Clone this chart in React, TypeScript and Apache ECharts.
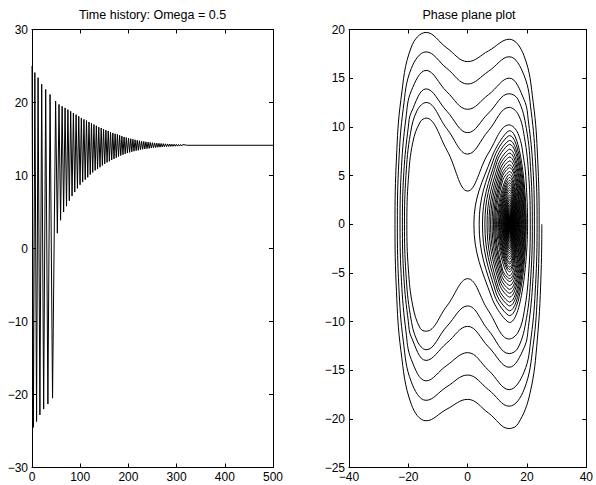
import React, { useEffect, useRef } from "react";
import * as echarts from "echarts";

// ---------- data ----------
// Time history: turning points of the large (two-well) oscillations
const outerTimes = [0, 2.9, 5.9, 9.5, 12.6, 16.4, 20.1, 24.2, 28.4, 33.0, 37.5, 42.6];
const outerX = [25, -24.5, 24.1, -23.7, 23.4, -22.8, 22.5, -22, 21.8, -21.3, 21.1, -20.5];

// Trapped oscillation around the right well: turning-point times and positions
const trapTimes = [
  49.0, 52.6, 56.0, 59.3, 62.5, 65.6, 68.6, 71.6, 74.5, 77.4,
  80.25, 83.1, 85.9, 88.7, 91.5, 94.25, 97.0, 99.7, 102.4, 105.1,
  107.75, 110.4, 113.05, 115.65, 118.25, 120.85, 123.4, 125.95, 128.5, 131.05,
  133.55, 136.05, 138.55, 141.05, 143.55, 146.0, 148.45, 150.9, 153.35, 155.75,
  158.15, 160.55, 162.95, 165.35, 167.75, 170.1, 172.45, 174.8, 177.15, 179.5,
  181.85, 184.15, 186.45, 188.75, 191.05, 193.35, 195.65, 197.95, 200.25, 202.55,
  204.85, 207.1, 209.35, 211.6, 213.85, 216.1, 218.35, 220.6, 222.85, 225.1,
  227.35, 229.6, 231.85, 234.1, 236.35, 238.6, 240.85, 243.1, 245.35, 247.6,
  249.85, 252.1, 254.35, 256.6, 258.85, 261.1, 263.35, 265.6, 267.85, 270.1,
  272.35, 274.6, 276.85, 279.1, 281.35, 283.6, 285.85, 288.1, 290.35, 292.6,
  294.85, 297.1, 299.35, 301.6, 303.85, 306.1, 308.35, 310.6, 312.85,
];
const trapX = [
  20.2, 2.1, 19.74, 3.87, 19.48, 5.0, 19.26, 5.8, 19.02, 6.54,
  18.79, 7.19, 18.56, 7.73, 18.34, 8.24, 18.12, 8.72, 17.88, 9.1,
  17.69, 9.44, 17.52, 9.75, 17.33, 10.13, 17.15, 10.42, 16.99, 10.7,
  16.81, 10.91, 16.63, 11.13, 16.51, 11.38, 16.36, 11.6, 16.21, 11.79,
  16.1, 11.95, 15.96, 12.12, 15.83, 12.28, 15.71, 12.44, 15.63, 12.6,
  15.51, 12.73, 15.39, 12.85, 15.28, 12.97, 15.2, 13.07, 15.12, 13.16,
  15.04, 13.25, 14.97, 13.33, 14.89, 13.4, 14.82, 13.45, 14.76, 13.53,
  14.71, 13.59, 14.66, 13.64, 14.61, 13.68, 14.57, 13.72, 14.53, 13.76,
  14.5, 13.8, 14.46, 13.83, 14.43, 13.86, 14.41, 13.88, 14.38, 13.91,
  14.36, 13.93, 14.34, 13.95, 14.32, 13.97, 14.31, 13.98, 14.29, 14.0,
  14.28, 14.01, 14.27, 14.02, 14.26, 14.03, 14.25, 14.04, 14.24,
];
// Extreme velocity between consecutive turning points (reached at the well centre)
const trapV = [
  -10.1, 9.6, -9.4, 9.1, -8.9, 8.6, -8.4, 8.2, -8.0, 7.7,
  -7.5, 7.3, -7.1, 6.9, -6.7, 6.5, -6.3, 6.1, -5.9, 5.8,
  -5.6, 5.4, -5.3, 5.1, -4.9, 4.8, -4.65, 4.5, -4.4, 4.25,
  -4.1, 4.0, -3.9, 3.75, -3.6, 3.5, -3.35, 3.25, -3.1, 3.0,
  -2.9, 2.8, -2.7, 2.6, -2.5, 2.45, -2.35, 2.25, -2.15, 2.05,
  -1.95, 1.9, -1.8, 1.75, -1.65, 1.6, -1.5, 1.45, -1.4, 1.35,
  -1.3, 1.2, -1.15, 1.1, -1.05, 1.0, -0.95, 0.9, -0.88, 0.84,
  -0.8, 0.76, -0.73, 0.69, -0.66, 0.63, -0.6, 0.57, -0.55, 0.52,
  -0.5, 0.47, -0.45, 0.43, -0.41, 0.39, -0.37, 0.355, -0.34, 0.32,
  -0.305, 0.29, -0.28, 0.265, -0.25, 0.24, -0.23, 0.22, -0.21, 0.2,
  -0.19, 0.18, -0.17, 0.16, -0.155, 0.15, -0.14, 0.135,
];
// Extra point on the left flank of the first (largest) trapped half-loops
const trapMidX = [
  8.12, 8.12, 9.0, 9.0, 9.57, 9.57, 9.97, 9.97, 10.34, 10.34,
  10.67, 10.67, 10.94, 10.94, 11.19, 11.19, 11.43, 11.43, 11.62, 11.62,
  11.79, 11.79,
];
const trapMidV = [
  -7.55, 6.87, -7.28, 6.89, -7.06, 6.68, -6.73, 6.48, -6.51, 6.14,
  -6.14, 5.89, -5.85, 5.6, -5.55, 5.31, -5.26, 5.02, -4.92, 4.8,
  -4.7, 4.46,
];
const wellCenter = 14.14;
const tailTimes = [322, 500];
const tailX = [14.14, 14.14];

// Phase plane: large loops (bottom = moving left, top = moving right), [x, v]
const B1 = [[25, 0], [24.8, -4.5], [23.5, -11.8], [21, -17.4], [17, -20.5], [14, -21], [7, -19.4], [0, -18], [-7, -19], [-14, -20.2], [-19, -18.5], [-22.5, -13], [-24, -6.9], [-24.5, 0]];
const T1 = [[-24.5, 0], [-24, 6.8], [-22.5, 12.8], [-19, 18.2], [-14, 19.7], [-7, 18.1], [0, 16.7], [7, 17.8], [14, 19.0], [19, 17.3], [22.1, 12.5], [23.6, 6.7], [24.1, 0]];
const B2 = [[24.1, 0], [23.6, -6.6], [22.1, -12.4], [19, -17.0], [14, -18.7], [7, -17.0], [0, -15.5], [-7, -16.7], [-14, -18.1], [-19, -16.2], [-21.7, -12.0], [-23.2, -6.4], [-23.7, 0]];
const T2 = [[-23.7, 0], [-23.2, 6.4], [-21.7, 11.9], [-19, 16.0], [-14, 17.7], [-7, 16.0], [0, 14.4], [7, 15.7], [14, 17.2], [19, 15.3], [21.4, 11.6], [22.9, 6.2], [23.4, 0]];
const B3 = [[23.4, 0], [22.9, -6.2], [21.4, -11.6], [19, -15.2], [14, -17.0], [7, -15.0], [0, -13.2], [-7, -14.5], [-14, -16.1], [-19, -13.9], [-20.8, -11.0], [-22.3, -5.9], [-22.8, 0]];
const T3 = [[-22.8, 0], [-22.3, 5.9], [-20.8, 10.9], [-19, 13.7], [-14, 15.8], [-7, 13.6], [0, 11.8], [7, 13.3], [14, 15.0], [19, 12.8], [20.5, 10.5], [22, 5.8], [22.5, 0]];
const B4 = [[22.5, 0], [22, -5.7], [20.5, -10.5], [19, -12.7], [14, -14.7], [7, -12.6], [0, -10.5], [-7, -12.2], [-14, -14.0], [-19, -11.6], [-20, -10.0], [-21.5, -5.5], [-22, 0]];
const T4 = [[-22, 0], [-21.5, 5.4], [-20, 10.0], [-19, 11.5], [-14, 13.9], [-7, 11.6], [0, 9.4], [7, 11.4], [14, 13.4], [17, 12.8], [19.8, 9.8], [21.3, 5.3], [21.8, 0]];
const B5 = [[21.8, 0], [21.3, -5.3], [19.8, -9.7], [17, -12.7], [14, -13.3], [7, -10.9], [0, -8.4], [-7, -10.5], [-14, -12.9], [-17, -12.0], [-19.3, -9.4], [-20.8, -5.1], [-21.3, 0]];
const T5 = [[-21.3, 0], [-20.8, 5.0], [-19.3, 9.3], [-17, 11.7], [-14, 12.5], [-7, 9.8], [0, 7.2], [7, 9.6], [14, 12.0], [17, 11.3], [19.1, 9.0], [20.6, 4.9], [21.1, 0]];
const B6 = [[21.1, 0], [20.6, -4.9], [19.1, -8.9], [17, -11.1], [14, -11.8], [7, -8.9], [0, -5.6], [-7, -8.4], [-14, -11.0], [-16, -10.7], [-18.5, -8.4], [-20, -4.6], [-20.5, 0]];
const T6 = [[-20.5, 0], [-20, 4.6], [-18.5, 8.4], [-16, 10.5], [-14, 10.9], [-7, 7.6], [0, 3.4], [7, 7.3], [14, 10.2], [17, 9.3], [19, 6.5], [19.7, 4.4], [20.2, 0]];

// Axis ranges / ticks
const timeAxis = { min: 0, max: 500, interval: 100 };
const histAxis = { min: -30, max: 30, interval: 10 };
const posAxis = { min: -40, max: 40, interval: 20 };
const velAxis = { min: -25, max: 20, interval: 5 };

const titles = ["Time history: Omega = 0.5", "Phase plane plot"];

// ---------- build series ----------
function buildTimeData(): number[][] {
  const out: number[][] = [];
  outerTimes.forEach((t, i) => out.push([t, outerX[i]]));
  const n = Math.min(trapTimes.length, trapX.length);
  for (let i = 0; i < n; i++) out.push([trapTimes[i], trapX[i]]);
  tailTimes.forEach((t, i) => out.push([t, tailX[i]]));
  return out;
}

function buildPhaseData(): number[][] {
  const out: number[][] = [];
  const curves = [B1, T1, B2, T2, B3, T3, B4, T4, B5, T5, B6, T6];
  curves.forEach((c, i) => {
    (i === 0 ? c : c.slice(1)).forEach((p) => out.push([p[0], p[1]]));
  });
  const n = Math.min(trapV.length, trapX.length - 1);
  for (let k = 0; k < n; k++) {
    if (k > 0) out.push([trapX[k], 0]);
    const hasMid = k < trapMidX.length && k < trapMidV.length;
    const topHalf = trapV[k] > 0; // moving right: left flank comes first
    if (hasMid && topHalf) out.push([trapMidX[k], trapMidV[k]]);
    out.push([wellCenter, trapV[k]]);
    if (hasMid && !topHalf) out.push([trapMidX[k], trapMidV[k]]);
  }
  out.push([trapX[n], 0]);
  return out;
}

const FONT = "'Liberation Sans', Arial, Helvetica, sans-serif";
const fmt = (v: number) => (v < 0 ? "\u2212" + Math.abs(v) : String(v));

function axis(gridIndex: number, position: string, range: any, showLabel: boolean, margin: number) {
  return {
    type: "value",
    gridIndex,
    position,
    min: range.min,
    max: range.max,
    interval: range.interval,
    axisLine: { show: true, onZero: false, lineStyle: { color: "#000", width: 1 } },
    axisTick: { show: true, inside: true, length: 4, lineStyle: { color: "#000", width: 1 } },
    splitLine: { show: false },
    axisLabel: {
      show: showLabel,
      color: "#000",
      fontSize: 12,
      fontFamily: FONT,
      margin,
      formatter: fmt,
      showMinLabel: true,
      showMaxLabel: true,
    },
  };
}

export default function App() {
  const ref = useRef<HTMLDivElement>(null);
  useEffect(() => {
    if (!ref.current) return;
    const chart = echarts.init(ref.current, null, { renderer: "svg" });
    const grid0 = { left: 32, top: 29.5, width: 241, height: 438 };
    const grid1 = { left: 349, top: 29.5, width: 240, height: 438 };
    chart.setOption({
      animation: false,
      backgroundColor: "#fff",
      grid: [
        { ...grid0, containLabel: false },
        { ...grid1, containLabel: false },
      ],
      graphic: [
        {
          type: "text",
          x: grid0.left + grid0.width / 2,
          y: 15,
          style: { text: titles[0], fill: "#000", fontSize: 12.5, fontFamily: FONT, textAlign: "center", textVerticalAlign: "middle" },
        },
        {
          type: "text",
          x: grid1.left + grid1.width / 2,
          y: 15,
          style: { text: titles[1], fill: "#000", fontSize: 12.5, fontFamily: FONT, textAlign: "center", textVerticalAlign: "middle" },
        },
      ],
      xAxis: [
        axis(0, "bottom", timeAxis, true, 3.5),
        axis(0, "top", timeAxis, false, 3),
        axis(1, "bottom", posAxis, true, 3.5),
        axis(1, "top", posAxis, false, 3),
      ],
      yAxis: [
        axis(0, "left", histAxis, true, 4),
        axis(0, "right", histAxis, false, 4),
        axis(1, "left", velAxis, true, 4),
        axis(1, "right", velAxis, false, 4),
      ],
      series: [
        {
          type: "line",
          xAxisIndex: 0,
          yAxisIndex: 0,
          data: buildTimeData(),
          symbol: "none",
          showSymbol: false,
          silent: true,
          lineStyle: { color: "#000", width: 1 },
        },
        {
          type: "line",
          xAxisIndex: 2,
          yAxisIndex: 2,
          data: buildPhaseData(),
          symbol: "none",
          showSymbol: false,
          smooth: 0.4,
          silent: true,
          lineStyle: { color: "#000", width: 1 },
        },
      ],
    });
    return () => chart.dispose();
  }, []);
  return (
    <div
      ref={ref}
      style={{ position: "fixed", left: 0, top: 0, width: 596, height: 485, background: "#fff" }}
    />
  );
}
